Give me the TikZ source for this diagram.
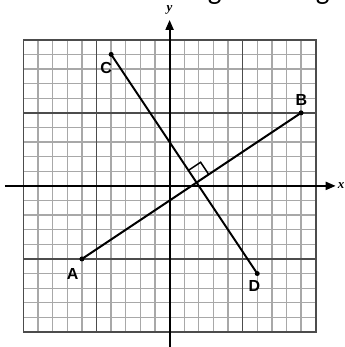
\documentclass[tikz,border=0pt]{standalone}
\usepackage{fontspec}
\setmainfont{Liberation Sans}
\newfontfamily\calib{Carlito}
\newfontfamily\tms{Liberation Serif}
\usetikzlibrary{arrows.meta}
\definecolor{minorc}{gray}{0.66}
\definecolor{majorc}{gray}{0.3}
\begin{document}
\begin{tikzpicture}[x=14.61pt,y=14.61pt,
  minorline/.style={draw=minorc,line width=1.3pt},
  majorline/.style={draw=majorc,line width=1.6pt},
  borderline/.style={draw=majorc,line width=1.9pt},
  axisline/.style={draw=black,line width=2pt},
  axisarrow/.style={axisline,-{Triangle[length=10pt,width=8pt]}},
  seg/.style={draw=black,line width=2pt,line cap=round},
  ptdot/.style={circle,fill=black,inner sep=0pt,minimum size=5pt},
  ptlab/.style={font=\bfseries\fontsize{16}{18}\selectfont,inner sep=0pt},
  axlab/.style={font=\tms\bfseries\itshape\fontsize{13}{15}\selectfont,inner sep=0pt},
  rtmark/.style={draw=black,line width=1.5pt},
  toptext/.style={font=\calib\fontsize{29}{32}\selectfont,inner sep=0pt}]
\useasboundingbox (-11.608,-11.027) rectangle (12.005,12.724);
\clip (-11.608,-11.027) rectangle (12.005,12.724);
% top text (cropped in the reference)
\node[toptext,anchor=base east,font=\calib\bfseries\fontsize{29}{32}\selectfont] (num) at (-10.55,12.78) {2.};
\node[toptext,anchor=base west] (title) at (-9.007,12.78) {In the following two diagrams};
% grid
\foreach \k in {-9,...,9} {
  \draw[minorline] (\k,-10) -- (\k,10);
  \draw[minorline] (-10,\k) -- (10,\k);
}
\foreach \k in {-5,5} {
  \draw[majorline] (\k,-10) -- (\k,10);
  \draw[majorline] (-10,\k) -- (10,\k);
}
\draw[borderline] (-10,-10) rectangle (10,10);
% axes
\coordinate (xl) at (-11.27,0);
\coordinate (xr) at (11.37,0);
\coordinate (yb) at (0,-11.5);
\coordinate (yt) at (0,11.36);
\draw[axisarrow] (xl) -- (xr);
\draw[axisarrow] (yb) -- (yt);
\node[axlab] (xlab) at (11.74,0) {x};
\node[axlab] (ylab) at (0,12.04) {y};
% points
\node[ptdot] (A) at (-6,-5) {};
\node[ptdot] (B) at (9,5) {};
\node[ptdot] (C) at (-4,9) {};
\node[ptdot] (D) at (6,-6) {};
\draw[seg] (A.center) -- (B.center);
\draw[seg] (C.center) -- (D.center);
\node[ptlab] (Alab) at (-6.63,-6.04) {A};
\node[ptlab] (Blab) at (9.03,5.85) {B};
\node[ptlab] (Clab) at (-4.35,8.09) {C};
\node[ptlab] (Dlab) at (5.81,-6.84) {D};
% right angle mark
\coordinate (P1) at (1.2915,1.0628);
\coordinate (Q) at (2.1235,1.6175);
\coordinate (P2) at (2.6782,0.7855);
\draw[rtmark] (P1) -- (Q) -- (P2);
\end{tikzpicture}
\end{document}
